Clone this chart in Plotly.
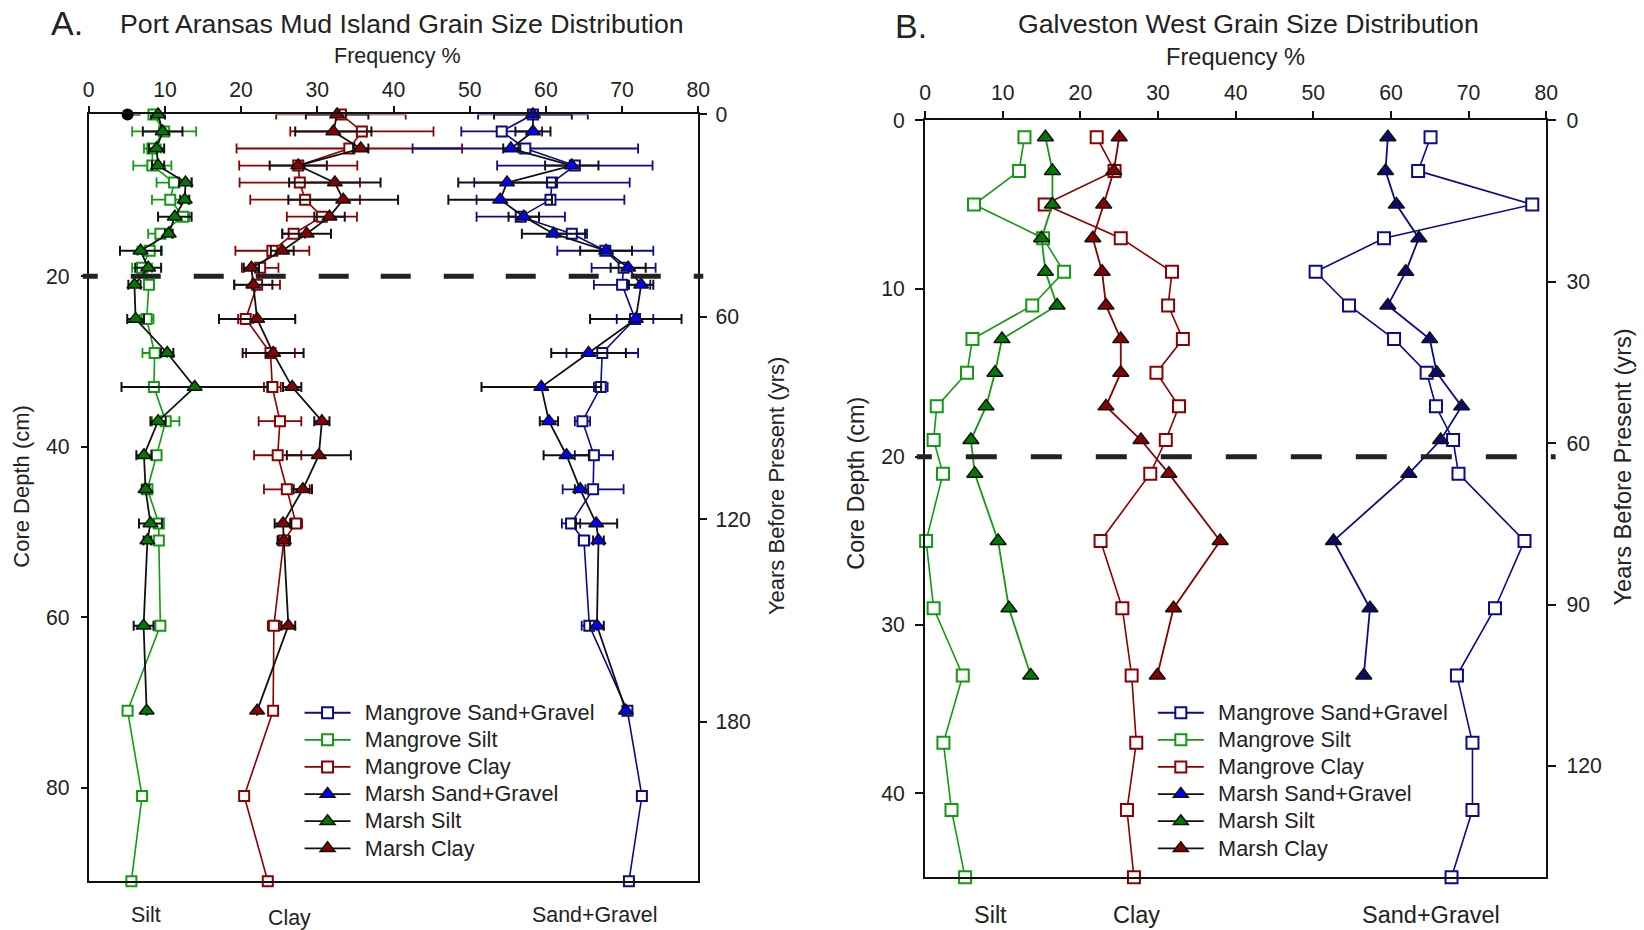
import plotly.graph_objects as go

W, H = 1644, 930
FONT = "Liberation Sans, Arial, sans-serif"

# small correction between layout pixels and the photographed page
OX, SX = 5.2, 0.9898
OY, SY = 10.8, 0.98775


def tx(x):
    return (x - OX) / SX


def ty(y):
    return (y - OY) / SY


def px(x):
    return tx(x) / W


def py(y):
    return 1 - ty(y) / H


# ---------------- Panel A : Port Aransas Mud Island ----------------
depth_a = [1, 3, 5, 7, 9, 11, 13, 15, 17, 19, 21, 25, 29, 33, 37, 41, 45, 49, 51, 61, 71, 81, 91]
depth_a_marsh = depth_a[:21]

a_mang_sand = [58.3, 54.2, 57.3, 63.8, 60.8, 60.6, 56.7, 63.4, 67.8, 70.2, 70.0, 71.7, 67.4, 67.2,
               64.8, 66.3, 66.2, 63.3, 65.0, 65.7, 70.7, 72.6, 70.9]
a_mang_sand_err = [7.2, 5.3, 14.8, 10.2, 10.2, 9.7, 5.8, 2.0, 6.3, 4.2, 3.7, 2.4, 4.7, 0.9,
                   1.0, 2.5, 4.0, 1.2, 0.7, 1.0, None, None, None]
a_mang_silt = [8.5, 9.9, 8.35, 8.35, 11.2, 10.7, 12.4, 9.4, 8.0, 7.0, 7.9, 7.6, 8.65, 8.55,
               10.1, 8.9, 7.7, 9.2, 9.2, 9.4, 5.1, 7.0, 5.6]
a_mang_silt_err = [0.6, 4.2, 1.1, 2.5, 2.3, 2.4, 0.8, 1.6, 1.6, 1.3, 0.6, 0.9, 1.6, 0.5,
                   1.8, 0.5, 0.5, 0.5, 0.5, 0.5, None, None, None]
a_mang_clay = [33.1, 35.85, 34.2, 27.5, 27.7, 28.4, 30.6, 26.9, 24.1, 22.5, 22.1, 20.6, 23.85, 24.1,
               25.1, 24.8, 26.0, 27.2, 25.6, 24.3, 24.2, 20.4, 23.5]
a_mang_clay_err = [8.5, 9.4, 14.8, 7.75, 7.9, 7.2, 4.6, 1.5, 4.85, 2.4, 3.0, 1.0, 3.2, 1.1,
                   2.8, 3.1, 3.0, 0.8, 0.8, 0.8, None, None, None]

a_marsh_sand = [58.3, 58.3, 55.4, 63.4, 54.9, 54.0, 57.1, 61.0, 67.9, 70.8, 72.5, 71.8, 65.6, 59.4,
                60.4, 62.7, 64.5, 66.6, 66.9, 66.7, 70.5]
a_marsh_sand_err = [5.1, 2.3, 1.0, 3.5, 6.4, 6.8, 2.0, 4.15, 3.4, 2.3, 1.6, 6.0, 4.9, 7.85,
                    1.2, 3.0, 0.7, 2.75, 0.7, 0.9, None]
a_marsh_silt = [9.1, 9.7, 8.9, 9.1, 12.7, 12.6, 11.3, 10.5, 6.8, 7.8, 6.0, 6.15, 10.3, 13.9,
                9.1, 7.25, 7.46, 8.1, 7.7, 7.2, 7.6]
a_marsh_silt_err = [0.9, 2.6, 1.0, 0.8, 0.8, 0.6, 2.2, 0.5, 2.7, 1.7, 0.8, 1.1, 0.8, 9.6,
                    1.0, 1.0, 0.5, 1.5, 0.5, 1.3, None]
a_marsh_clay = [32.6, 32.1, 35.7, 27.5, 32.3, 33.4, 31.6, 28.6, 25.4, 21.35, 21.6, 22.1, 24.2, 26.7,
                30.6, 30.2, 28.1, 25.5, 25.6, 26.2, 22.1]
a_marsh_clay_err = [4.1, 5.0, 1.0, 3.75, 6.0, 7.2, 2.0, 3.2, 1.5, 1.0, 2.5, 5.0, 4.0, 1.2,
                    1.0, 4.2, 1.2, 1.1, 0.8, 0.9, None]

# stray black point on the surface sample
a_extra_x = [5.1]
a_extra_depth = [1]
a_extra_err_plus = [1.7]

# ---------------- Panel B : Galveston West ----------------
depth_b = [1, 3, 5, 7, 9, 11, 13, 15, 17, 19, 21, 25, 29, 33, 37, 41, 45]
depth_b_marsh = depth_b[:14]

b_mang_sand = [65.1, 63.5, 78.2, 59.1, 50.3, 54.6, 60.4, 64.6, 65.8, 68.0, 68.7, 77.2, 73.4, 68.5,
               70.5, 70.5, 67.8]
b_mang_silt = [12.8, 12.1, 6.3, 15.2, 17.9, 13.8, 6.1, 5.4, 1.5, 1.1, 2.3, 0.13, 1.1, 4.85,
               2.36, 3.4, 5.15]
b_mang_clay = [22.1, 24.4, 15.4, 25.2, 31.8, 31.3, 33.2, 29.8, 32.7, 31.0, 29.0, 22.6, 25.4, 26.6,
               27.2, 26.0, 26.9]
b_marsh_sand = [59.6, 59.3, 60.7, 63.6, 61.9, 59.6, 65.0, 65.9, 69.1, 66.4, 62.3, 52.6, 57.3, 56.5]
b_marsh_silt = [15.5, 16.4, 16.4, 15.0, 15.5, 17.0, 9.9, 9.0, 7.85, 5.9, 6.4, 9.4, 10.8, 13.6]
b_marsh_clay = [25.0, 24.3, 23.0, 21.6, 22.8, 23.3, 25.2, 25.2, 23.3, 27.8, 31.4, 38.0, 32.0, 29.9]

x_ticks = [0, 10, 20, 30, 40, 50, 60, 70, 80]
a_depth_ticks = [20, 40, 60, 80]
a_year_ticks = [0, 60, 120, 180]
b_depth_ticks = [0, 10, 20, 30, 40]
b_year_ticks = [0, 30, 60, 90, 120]
legend_names = ["Mangrove Sand+Gravel", "Mangrove Silt", "Mangrove Clay",
                "Marsh Sand+Gravel", "Marsh Silt", "Marsh Clay"]
components = ["Silt", "Clay", "Sand+Gravel"]

# ---------------- styles ----------------
NAVY = "#0b0b8c"
BLUE = "#0000ff"
GREEN_L = "#129a12"
GREEN = "#007a00"
RED = "#8b0000"
BLK = "#111111"

fig = go.Figure()


def mangrove(x, y, err, color, xa, ya, msize):
    tr = dict(x=x, y=y, mode="lines+markers", xaxis=xa, yaxis=ya, showlegend=False,
              cliponaxis=False, hoverinfo="skip",
              line=dict(color=color, width=1.6),
              marker=dict(symbol="square", size=msize, color="white",
                          line=dict(color=color, width=2)))
    if err is not None:
        tr["error_x"] = dict(type="data", array=err, symmetric=True, color=color,
                             thickness=1.8, width=5)
    fig.add_trace(go.Scatter(**tr))


def marsh(x, y, err, fill, linecolor, xa, ya, msize):
    tr = dict(x=x, y=y, mode="lines+markers", xaxis=xa, yaxis=ya, showlegend=False,
              cliponaxis=False, hoverinfo="skip",
              line=dict(color=linecolor, width=1.8),
              marker=dict(symbol="triangle-up", size=msize, color=fill,
                          line=dict(color=BLK, width=1.5)))
    if err is not None:
        tr["error_x"] = dict(type="data", array=err, symmetric=True, color=BLK,
                             thickness=2, width=5)
    fig.add_trace(go.Scatter(**tr))


# Panel A traces
mangrove(a_mang_silt, depth_a, a_mang_silt_err, GREEN_L, "x", "y", 10)
mangrove(a_mang_clay, depth_a, a_mang_clay_err, RED, "x", "y", 10)
mangrove(a_mang_sand, depth_a, a_mang_sand_err, NAVY, "x", "y", 10)
marsh(a_marsh_silt, depth_a_marsh, a_marsh_silt_err, GREEN, BLK, "x", "y", 13)
marsh(a_marsh_clay, depth_a_marsh, a_marsh_clay_err, RED, BLK, "x", "y", 13)
marsh(a_marsh_sand, depth_a_marsh, a_marsh_sand_err, BLUE, BLK, "x", "y", 13)
fig.add_trace(go.Scatter(x=a_extra_x, y=a_extra_depth, mode="markers", xaxis="x", yaxis="y",
                         showlegend=False, cliponaxis=False, hoverinfo="skip",
                         marker=dict(symbol="circle", size=12, color="black"),
                         error_x=dict(type="data", array=a_extra_err_plus, arrayminus=[0],
                                      symmetric=False, color="black", thickness=2, width=0)))

# Panel B traces
mangrove(b_mang_silt, depth_b, None, GREEN_L, "x2", "y3", 12)
mangrove(b_mang_clay, depth_b, None, RED, "x2", "y3", 12)
mangrove(b_mang_sand, depth_b, None, NAVY, "x2", "y3", 12)
marsh(b_marsh_silt, depth_b_marsh, None, GREEN, GREEN_L, "x2", "y3", 14)
marsh(b_marsh_clay, depth_b_marsh, None, RED, RED, "x2", "y3", 14)
marsh(b_marsh_sand, depth_b_marsh, None, "#0a0a70", NAVY, "x2", "y3", 14)

# Legend entries
leg_styles = [
    ("square", "white", NAVY, NAVY),
    ("square", "white", GREEN_L, GREEN_L),
    ("square", "white", RED, RED),
    ("triangle-up", BLUE, BLK, BLK),
    ("triangle-up", GREEN, BLK, BLK),
    ("triangle-up", RED, BLK, BLK),
]
for legname, xa, ya in [("legend", "x", "y2"), ("legend2", "x2", "y4")]:
    for name, (sym, fill, mline, lcol) in zip(legend_names, leg_styles):
        fig.add_trace(go.Scatter(
            x=[None], y=[None],
            name="\u2002<span style=\"font-size:21.7px\">" + name + "</span>",
            mode="lines+markers", xaxis=xa, yaxis=ya,
            legend=legname, showlegend=True, hoverinfo="skip",
            line=dict(color=lcol, width=1.8),
            marker=dict(symbol=sym, size=11 if sym == "square" else 13, color=fill,
                        line=dict(color=mline, width=2 if sym == "square" else 1.5))))

tickfont = dict(size=21.2, color="#222", family=FONT)
axis_common = dict(showline=True, linecolor=BLK, linewidth=2, ticks="outside", tickwidth=2,
                   tickcolor=BLK, showgrid=False, zeroline=False, tickfont=tickfont,
                   fixedrange=True)

A_L, A_R, A_T, A_B = 88, 698, 113.3, 880.6
B_L, B_R, B_T, B_B = 925, 1546.6, 119.3, 876.7

legend_common = dict(xanchor="left", yanchor="top", bgcolor="rgba(0,0,0,0)",
                     font=dict(size=18.55, family=FONT, color="#222"),
                     itemwidth=46, tracegroupgap=0, traceorder="normal")

fig.update_layout(
    width=W, height=H, margin=dict(l=0, r=0, t=0, b=0), autosize=False,
    paper_bgcolor="white", plot_bgcolor="white",
    font=dict(family=FONT, color="#222"),
    xaxis=dict(domain=[px(A_L), px(A_R)], anchor="y", side="top", range=[0, 80],
               tickvals=x_ticks, ticklen=6, mirror=True, ticklabelstandoff=1, **axis_common),
    yaxis=dict(domain=[py(A_B), py(A_T)], anchor="x", range=[91, 1],
               tickvals=a_depth_ticks, ticklen=6, ticklabelstandoff=7, **axis_common),
    yaxis2=dict(overlaying="y", anchor="x", side="right", range=[227.3, 0],
                tickvals=a_year_ticks, ticklen=7, ticklabelstandoff=4, **axis_common),
    xaxis2=dict(domain=[px(B_L), px(B_R)], anchor="y3", side="top", range=[0, 80],
                tickvals=x_ticks, ticklen=7, mirror=True, ticklabelstandoff=3, **axis_common),
    yaxis3=dict(domain=[py(B_B), py(B_T)], anchor="x2", range=[45, 0],
                tickvals=b_depth_ticks, ticklen=8, ticklabelstandoff=6, **axis_common),
    yaxis4=dict(overlaying="y3", anchor="x2", side="right", range=[140.7, 0],
                tickvals=b_year_ticks, ticklen=8, ticklabelstandoff=6, **axis_common),
    legend=dict(x=296.8 / W, y=1 - 691.1 / H, **legend_common),
    legend2=dict(x=1159.5 / W, y=1 - 691.1 / H, **legend_common),
)

# dashed 20 cm reference lines
dash_a = "15px,33px," + ",".join(["30px,33px,30px,32px"] * 6)
dash_b = "15px,34px," + ",".join(["31px,34px"] * 11)
fig.add_shape(type="line", xref="paper", yref="y", x0=px(82), x1=px(703), y0=20, y1=20,
              line=dict(color="#222", width=5, dash=dash_a), layer="above")
fig.add_shape(type="line", xref="paper", yref="y3", x0=px(916.7), x1=px(1556), y0=20, y1=20,
              line=dict(color="#222", width=5, dash=dash_b), layer="above")


def note(text, x, y, size, angle=0):
    fig.add_annotation(text=text, x=px(x), y=py(y), xref="paper", yref="paper",
                       showarrow=False, xanchor="center", yanchor="middle",
                       textangle=angle, font=dict(size=size, family=FONT, color="#222"))


note("A.", 66, 22, 34)
note("Port Aransas Mud Island Grain Size Distribution", 401, 23, 26.7)
note("Frequency %", 397, 54.5, 21.5)
note("Core Depth (cm)", 21, 485, 22, -90)
note("Years Before Present (yrs)", 777, 485, 22, -90)
for comp, cx, cy in zip(components, [145.7, 289.4, 594.5], [914.3, 917.4, 914.3]):
    note(comp, cx, cy, 21.4)

note("B.", 911, 25, 34)
note("Galveston West Grain Size Distribution", 1249, 23, 26.7)
note("Frequency %", 1236, 55.6, 23.6)
note("Core Depth (cm)", 855.6, 482, 23.4, -90)
note("Years Before Present (yrs)", 1623, 466, 23.6, -90)
for comp, cx in zip(components, [990.8, 1136.6, 1431.2]):
    note(comp, cx, 914, 23.5)

fig.write_html("out.html")
